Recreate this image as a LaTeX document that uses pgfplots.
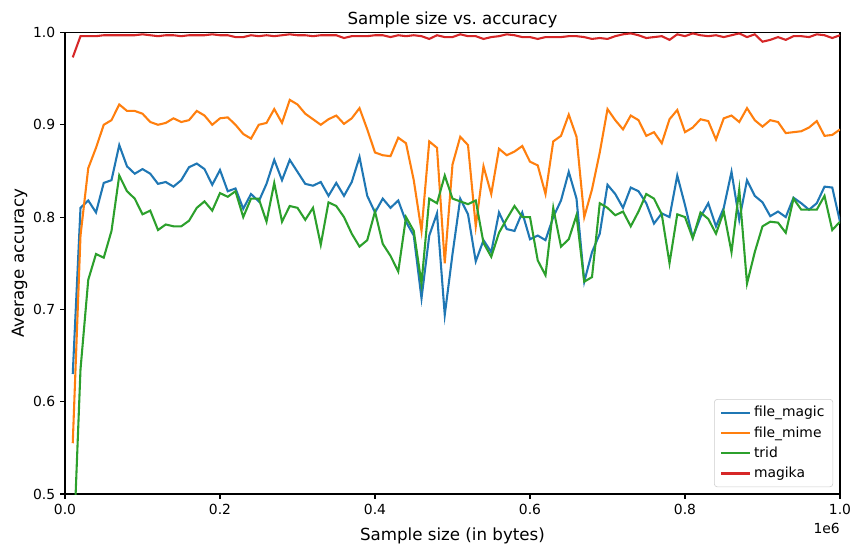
\documentclass[border=0pt]{standalone}
\usepackage{fontspec}
\setmainfont{DejaVu Sans}
\usepackage{pgfplots}
\usepackage{pgfplotstable}
\pgfplotsset{compat=1.18}
\definecolor{tabblue}{HTML}{1F77B4}
\definecolor{taborange}{HTML}{FF7F0E}
\definecolor{tabgreen}{HTML}{2CA02C}
\definecolor{tabred}{HTML}{D62728}

\pgfplotstableread{
x y
0.01 0.630
0.02 0.810
0.03 0.818
0.04 0.805
0.05 0.837
0.06 0.840
0.07 0.878
0.08 0.855
0.09 0.847
0.10 0.852
0.11 0.847
0.12 0.836
0.13 0.838
0.14 0.833
0.15 0.840
0.16 0.854
0.17 0.858
0.18 0.852
0.19 0.835
0.20 0.851
0.21 0.828
0.22 0.831
0.23 0.809
0.24 0.825
0.25 0.817
0.26 0.836
0.27 0.862
0.28 0.840
0.29 0.862
0.30 0.849
0.31 0.836
0.32 0.834
0.33 0.838
0.34 0.823
0.35 0.837
0.36 0.823
0.37 0.838
0.38 0.865
0.39 0.823
0.40 0.805
0.41 0.820
0.42 0.810
0.43 0.818
0.44 0.795
0.45 0.780
0.46 0.712
0.47 0.780
0.48 0.804
0.49 0.694
0.50 0.760
0.51 0.820
0.52 0.803
0.53 0.752
0.54 0.775
0.55 0.762
0.56 0.805
0.57 0.787
0.58 0.785
0.59 0.805
0.60 0.776
0.61 0.780
0.62 0.775
0.63 0.800
0.64 0.818
0.65 0.849
0.66 0.820
0.67 0.730
0.68 0.762
0.69 0.782
0.70 0.835
0.71 0.825
0.72 0.810
0.73 0.832
0.74 0.828
0.75 0.815
0.76 0.793
0.77 0.804
0.78 0.800
0.79 0.845
0.80 0.813
0.81 0.778
0.82 0.800
0.83 0.815
0.84 0.790
0.85 0.810
0.86 0.849
0.87 0.797
0.88 0.840
0.89 0.823
0.90 0.816
0.91 0.801
0.92 0.806
0.93 0.800
0.94 0.821
0.95 0.815
0.96 0.808
0.97 0.815
0.98 0.833
0.99 0.832
1.00 0.795
}\magic

\pgfplotstableread{
x y
0.01 0.555
0.02 0.780
0.03 0.853
0.04 0.875
0.05 0.900
0.06 0.905
0.07 0.922
0.08 0.915
0.09 0.915
0.10 0.912
0.11 0.903
0.12 0.900
0.13 0.902
0.14 0.907
0.15 0.903
0.16 0.905
0.17 0.915
0.18 0.910
0.19 0.900
0.20 0.907
0.21 0.908
0.22 0.900
0.23 0.890
0.24 0.885
0.25 0.900
0.26 0.902
0.27 0.917
0.28 0.902
0.29 0.927
0.30 0.922
0.31 0.912
0.32 0.906
0.33 0.900
0.34 0.906
0.35 0.910
0.36 0.901
0.37 0.907
0.38 0.918
0.39 0.895
0.40 0.870
0.41 0.867
0.42 0.866
0.43 0.886
0.44 0.880
0.45 0.840
0.46 0.785
0.47 0.882
0.48 0.875
0.49 0.750
0.50 0.857
0.51 0.887
0.52 0.878
0.53 0.790
0.54 0.855
0.55 0.825
0.56 0.874
0.57 0.867
0.58 0.871
0.59 0.877
0.60 0.860
0.61 0.856
0.62 0.825
0.63 0.882
0.64 0.888
0.65 0.911
0.66 0.887
0.67 0.800
0.68 0.830
0.69 0.870
0.70 0.917
0.71 0.905
0.72 0.895
0.73 0.910
0.74 0.905
0.75 0.888
0.76 0.892
0.77 0.880
0.78 0.906
0.79 0.916
0.80 0.892
0.81 0.897
0.82 0.906
0.83 0.904
0.84 0.884
0.85 0.907
0.86 0.910
0.87 0.903
0.88 0.918
0.89 0.905
0.90 0.898
0.91 0.905
0.92 0.903
0.93 0.891
0.94 0.892
0.95 0.893
0.96 0.897
0.97 0.904
0.98 0.888
0.99 0.889
1.00 0.895
}\mime

\pgfplotstableread{
x y
0.01 0.420
0.02 0.635
0.03 0.732
0.04 0.760
0.05 0.756
0.06 0.785
0.07 0.845
0.08 0.828
0.09 0.820
0.10 0.803
0.11 0.807
0.12 0.786
0.13 0.792
0.14 0.790
0.15 0.790
0.16 0.796
0.17 0.810
0.18 0.817
0.19 0.807
0.20 0.826
0.21 0.822
0.22 0.828
0.23 0.800
0.24 0.820
0.25 0.820
0.26 0.795
0.27 0.837
0.28 0.795
0.29 0.812
0.30 0.810
0.31 0.797
0.32 0.810
0.33 0.770
0.34 0.816
0.35 0.812
0.36 0.800
0.37 0.782
0.38 0.768
0.39 0.775
0.40 0.806
0.41 0.771
0.42 0.758
0.43 0.741
0.44 0.800
0.45 0.785
0.46 0.728
0.47 0.820
0.48 0.815
0.49 0.845
0.50 0.820
0.51 0.817
0.52 0.814
0.53 0.818
0.54 0.772
0.55 0.757
0.56 0.783
0.57 0.798
0.58 0.812
0.59 0.800
0.60 0.800
0.61 0.753
0.62 0.737
0.63 0.810
0.64 0.768
0.65 0.776
0.66 0.802
0.67 0.730
0.68 0.735
0.69 0.815
0.70 0.810
0.71 0.802
0.72 0.806
0.73 0.790
0.74 0.806
0.75 0.825
0.76 0.820
0.77 0.803
0.78 0.750
0.79 0.803
0.80 0.800
0.81 0.777
0.82 0.805
0.83 0.798
0.84 0.782
0.85 0.806
0.86 0.762
0.87 0.830
0.88 0.728
0.89 0.762
0.90 0.790
0.91 0.795
0.92 0.794
0.93 0.783
0.94 0.820
0.95 0.808
0.96 0.808
0.97 0.808
0.98 0.823
0.99 0.786
1.00 0.795
}\trid

\pgfplotstableread{
x y
0.01 0.973
0.02 0.996
0.03 0.996
0.04 0.996
0.05 0.997
0.06 0.997
0.07 0.997
0.08 0.997
0.09 0.997
0.10 0.998
0.11 0.997
0.12 0.996
0.13 0.997
0.14 0.997
0.15 0.996
0.16 0.997
0.17 0.997
0.18 0.997
0.19 0.998
0.20 0.997
0.21 0.997
0.22 0.995
0.23 0.995
0.24 0.997
0.25 0.996
0.26 0.997
0.27 0.996
0.28 0.997
0.29 0.998
0.30 0.997
0.31 0.997
0.32 0.996
0.33 0.997
0.34 0.997
0.35 0.997
0.36 0.994
0.37 0.996
0.38 0.996
0.39 0.996
0.40 0.997
0.41 0.997
0.42 0.995
0.43 0.997
0.44 0.996
0.45 0.997
0.46 0.996
0.47 0.993
0.48 0.997
0.49 0.995
0.50 0.995
0.51 0.998
0.52 0.996
0.53 0.996
0.54 0.993
0.55 0.995
0.56 0.996
0.57 0.998
0.58 0.997
0.59 0.995
0.60 0.995
0.61 0.993
0.62 0.995
0.63 0.995
0.64 0.995
0.65 0.996
0.66 0.996
0.67 0.995
0.68 0.993
0.69 0.994
0.70 0.993
0.71 0.996
0.72 0.998
0.73 0.999
0.74 0.997
0.75 0.994
0.76 0.995
0.77 0.996
0.78 0.992
0.79 0.998
0.80 0.996
0.81 0.999
0.82 0.997
0.83 0.996
0.84 0.997
0.85 0.995
0.86 0.997
0.87 0.999
0.88 0.995
0.89 0.998
0.90 0.990
0.91 0.992
0.92 0.995
0.93 0.992
0.94 0.996
0.95 0.996
0.96 0.995
0.97 0.998
0.98 0.997
0.99 0.994
1.00 0.997
}\magika

\begin{document}
\begin{tikzpicture}
\useasboundingbox (-46.8pt,-41.04pt) rectangle (573.12pt,355.68pt);
\begin{axis}[
  at={(0,0)}, anchor=south west,
  scale only axis,
  width=558pt, height=332.3pt,
  xmin=0, xmax=1, ymin=0.5, ymax=1.0,
  xtick={0,0.2,0.4,0.6,0.8,1.0},
  xticklabels={0.0,0.2,0.4,0.6,0.8,1.0},
  ytick={0.5,0.6,0.7,0.8,0.9,1.0},
  yticklabels={0.5,0.6,0.7,0.8,0.9,1.0},
  tick align=outside,
  tick pos=left,
  major tick length=3.5pt,
  every tick/.style={black, line width=0.8pt},
  axis line style={line width=0.8pt},
  tick label style={font=\fontsize{10}{12}\selectfont},
  /pgf/number format/assume math mode=true,
  title={Sample size vs.\ accuracy},
  title style={font=\fontsize{12}{14}\selectfont, at={(0.5,1)}, anchor=south, yshift=-6pt},
  xlabel={Sample size (in bytes)},
  ylabel={Average accuracy},
  label style={font=\fontsize{12}{14}\selectfont},
  xlabel style={at={(0.5,0)}, anchor=north, yshift=-21pt},
  ylabel style={at={(0,0.5)}, anchor=south, yshift=23.5pt},
  clip mode=individual,
  legend cell align=left,
  legend style={at={(1,0)}, anchor=south east, xshift=-5pt, yshift=5pt,
    draw=black!20, rounded corners=2pt, font=\fontsize{10}{12}\selectfont,
    row sep=1.5pt, inner xsep=4pt, inner ysep=3pt},
  legend image code/.code={\draw[#1, line width=1.5pt] (0pt,0pt) -- (21pt,0pt);},
]
\addplot[tabblue, line width=1.5pt] table[x=x,y=y] {\magic};
\addlegendentry{file\_magic}
\addplot[taborange, line width=1.5pt] table[x=x,y=y] {\mime};
\addlegendentry{file\_mime}
\addplot[tabgreen, line width=1.5pt] table[x=x,y=y] {\trid};
\addlegendentry{trid}
\addplot[tabred, line width=1.5pt] table[x=x,y=y] {\magika};
\addlegendentry{magika}
\end{axis}
\node[anchor=north east, font=\fontsize{10}{12}\selectfont, inner sep=0pt] at (558pt,-20.5pt) {1e6};
\end{tikzpicture}
\end{document}
